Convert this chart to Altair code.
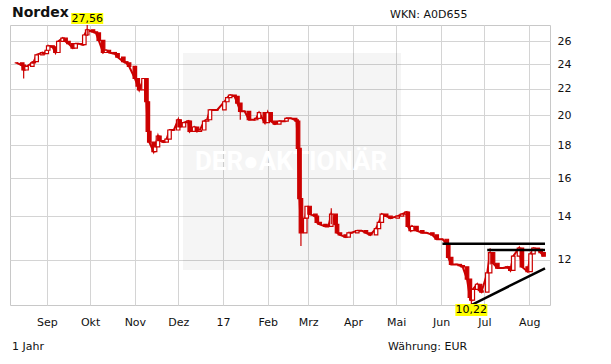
import altair as alt
import pandas as pd

# ---- data (Nordex, 1 year, EUR) ----
dates = [
    "2016-08-11", "2016-08-15", "2016-08-16", "2016-08-18", "2016-08-22", "2016-08-23",
    "2016-08-25", "2016-08-29", "2016-08-30", "2016-09-01", "2016-09-02", "2016-09-05",
    "2016-09-07", "2016-09-09", "2016-09-12", "2016-09-14", "2016-09-16", "2016-09-19",
    "2016-09-21", "2016-09-23", "2016-09-26", "2016-09-27", "2016-09-29", "2016-10-03",
    "2016-10-05", "2016-10-07", "2016-10-10", "2016-10-12", "2016-10-14", "2016-10-18",
    "2016-10-20", "2016-10-24", "2016-10-26", "2016-10-28", "2016-11-01", "2016-11-03",
    "2016-11-04", "2016-11-07", "2016-11-09", "2016-11-10", "2016-11-11", "2016-11-14",
    "2016-11-15", "2016-11-17", "2016-11-18", "2016-11-21", "2016-11-23", "2016-11-25",
    "2016-11-28", "2016-12-01", "2016-12-02", "2016-12-05", "2016-12-08", "2016-12-09",
    "2016-12-12", "2016-12-14", "2016-12-16", "2016-12-19", "2016-12-21", "2016-12-23",
    "2016-12-27", "2016-12-28", "2017-01-02", "2017-01-04", "2017-01-06", "2017-01-09",
    "2017-01-11", "2017-01-13", "2017-01-16", "2017-01-19", "2017-01-23", "2017-01-24",
    "2017-01-26", "2017-01-30", "2017-02-01", "2017-02-03", "2017-02-06", "2017-02-09",
    "2017-02-13", "2017-02-14", "2017-02-17", "2017-02-20", "2017-02-21", "2017-02-22",
    "2017-02-23", "2017-02-24", "2017-02-27", "2017-02-28", "2017-03-02", "2017-03-06",
    "2017-03-07", "2017-03-09", "2017-03-13", "2017-03-15", "2017-03-17", "2017-03-20",
    "2017-03-21", "2017-03-23", "2017-03-27", "2017-03-29", "2017-03-31", "2017-04-04",
    "2017-04-07", "2017-04-10", "2017-04-13", "2017-04-17", "2017-04-19", "2017-04-21",
    "2017-04-24", "2017-04-27", "2017-05-02", "2017-05-05", "2017-05-08", "2017-05-09",
    "2017-05-11", "2017-05-12", "2017-05-15", "2017-05-19", "2017-05-22", "2017-05-26",
    "2017-05-29", "2017-06-02", "2017-06-05", "2017-06-06", "2017-06-08", "2017-06-12",
    "2017-06-14", "2017-06-16", "2017-06-19", "2017-06-21", "2017-06-22", "2017-06-23",
    "2017-06-26", "2017-06-28", "2017-06-29", "2017-07-03", "2017-07-05", "2017-07-07",
    "2017-07-10", "2017-07-12", "2017-07-14", "2017-07-17", "2017-07-19", "2017-07-21",
    "2017-07-25", "2017-07-27", "2017-07-31", "2017-08-02", "2017-08-04", "2017-08-07",
    "2017-08-09", "2017-08-11",
]
close = [
    24.1, 23.9, 23.5, 23.8, 24.1, 24.2,
    24.8, 25.0, 24.9, 25.2, 25.6, 25.5,
    25.0, 26.0, 26.3, 26.0, 25.8, 25.4,
    25.8, 25.8, 25.7, 26.6, 27.1, 26.9,
    26.8, 26.1, 25.0, 25.2, 25.0, 24.9,
    24.6, 24.2, 24.1, 23.8, 22.8, 22.2,
    21.9, 22.8, 21.0, 18.9, 18.2, 17.6,
    17.9, 18.6, 18.3, 18.2, 18.4, 19.0,
    19.0, 19.7, 19.2, 19.5, 19.6, 18.9,
    19.2, 18.9, 19.0, 19.6, 19.7, 20.4,
    20.4, 20.4, 21.0, 21.3, 21.5, 21.4,
    20.9, 20.3, 20.3, 19.7, 19.7, 19.8,
    20.2, 19.5, 20.2, 19.6, 19.4, 19.6,
    19.6, 19.8, 19.8, 19.7, 19.6, 17.8,
    14.9, 13.2, 13.9, 14.5, 14.1, 14.0,
    13.7, 13.6, 13.5, 13.5, 14.1, 13.6,
    13.2, 13.1, 13.0, 13.2, 13.2, 13.3,
    13.3, 13.2, 13.1, 13.4, 13.7, 14.1,
    14.0, 13.9, 14.0, 14.1, 14.2, 13.5,
    13.3, 13.5, 13.3, 13.2, 13.2, 13.1,
    12.9, 12.9, 12.7, 12.1, 11.8, 11.8,
    11.75, 11.7, 11.2, 10.5, 10.4, 10.8,
    11.0, 10.75, 10.7, 11.45, 12.3, 11.85,
    11.65, 11.65, 11.65, 11.7, 11.55, 12.15,
    12.5, 11.7, 11.5, 12.25, 12.5, 12.45,
    12.3, 12.15,
]

# a few visible wicks (date, low, high)
wick_dates = ["2016-08-16", "2016-09-29", "2016-11-10", "2017-01-13", "2017-02-24",
              "2017-03-17", "2017-06-22", "2017-07-05"]
wick_low = [22.8, 26.5, 18.6, 19.7, 12.6, 13.6, 10.22, 11.8]
wick_high = [23.9, 27.56, 21.0, 20.4, 13.9, 14.4, 10.9, 12.5]

# chart support lines (segment, date, price)
trend_seg = ["a", "a", "b", "b", "c", "c"]
trend_dates = ["2017-06-02", "2017-08-12", "2017-07-03", "2017-08-12", "2017-06-22", "2017-08-12"]
trend_price = [12.70, 12.70, 12.42, 12.42, 10.22, 11.64]

max_date, max_value = "2016-09-29", 27.56
min_date, min_value = "2017-06-22", 10.22

y_ticks = [12, 14, 16, 18, 20, 22, 24, 26]
month_ticks = [(2016, 9), (2016, 10), (2016, 11), (2016, 12), (2017, 1), (2017, 2),
               (2017, 3), (2017, 4), (2017, 5), (2017, 6), (2017, 7), (2017, 8)]
month_names = ["Jan", "Feb", "Mrz", "Apr", "Mai", "Jun", "Jul", "Aug", "Sep", "Okt", "Nov", "Dez"]

# ---- tables ----
def iso(d):
    return d + "T00:00:00"

px = pd.DataFrame({"date": [iso(d) for d in dates], "close": close})
px["open"] = px["close"].shift(1).fillna(px["close"])
wk = pd.DataFrame({"date": [iso(d) for d in wick_dates], "low": wick_low, "high": wick_high})
tr = pd.DataFrame({"seg": trend_seg, "date": [iso(d) for d in trend_dates], "price": trend_price})
mx = pd.DataFrame({"date": [iso(max_date)], "label": [f"{max_value:.2f}".replace(".", ",")]})
mn = pd.DataFrame({"date": [iso(min_date)], "label": [f"{min_value:.2f}".replace(".", ",")]})

RED = "#cc0000"
FONT = "DejaVu Sans"

xscale = alt.Scale(domain=[alt.DateTime(year=2016, month=8, date=10),
                           alt.DateTime(year=2017, month=8, date=12)])
yscale = alt.Scale(type="log", domain=[10.22, 27.56], nice=False, zero=False)

label_expr = ("month(datum.value) == 0 ? timeFormat(datum.value, '%y') : "
              + str(month_names) + "[month(datum.value)]")

xaxis = alt.Axis(values=[alt.DateTime(year=y, month=m, date=1) for y, m in month_ticks],
                 labelExpr=label_expr, title=None, ticks=False, domain=False,
                 labelPadding=11, labelAngle=0, labelOverlap=False, labelFlush=False)
yaxis = alt.Axis(orient="right", values=y_ticks, title=None, ticks=False, domain=False,
                 labelPadding=7, format="d", labelOverlap=False)


def X(field):
    return alt.X(f"{field}:T", scale=xscale, axis=xaxis)


def Y(field):
    return alt.Y(f"{field}:Q", scale=yscale, axis=yaxis)


one = alt.Data(values=[{}])

watermark = alt.Chart(one).mark_rect(fill="#000000", opacity=0.04).encode(
    x=alt.value(173), x2=alt.value(391), y=alt.value(28), y2=alt.value(245))
watermark_text = alt.Chart(one).mark_text(
    text="DER●AKTIONÄR", font="Roboto", fontWeight="bold", fontSize=26,
    color="white", align="center", baseline="middle").encode(
    x=alt.value(281), y=alt.value(137))

line = alt.Chart(px).mark_line(color=RED, strokeWidth=2).encode(x=X("date"), y=Y("close"))
candles = alt.Chart(px).mark_bar(width=3.5, stroke=RED, strokeWidth=1.2).encode(
    x=X("date"), y=Y("open"), y2="close",
    fill=alt.condition("datum.close >= datum.open", alt.value("white"), alt.value(RED)))
wicks = alt.Chart(wk).mark_rule(color=RED, strokeWidth=1.2).encode(
    x=X("date"), y=Y("low"), y2="high")

trend = alt.Chart(tr).mark_line(color="black", strokeWidth=2.5, clip=True).encode(
    x=X("date"), y=Y("price"), detail="seg:N")

max_box = alt.Chart(mx).mark_rect(color="#ffff00", xOffset=-16, x2Offset=16).encode(
    x=X("date"), x2="date", y=alt.value(-12), y2=alt.value(-1))
max_txt = alt.Chart(mx).mark_text(font=FONT, fontSize=11, color="black", baseline="middle").encode(
    x=X("date"), y=alt.value(-6), text="label:N")
min_box = alt.Chart(mn).mark_rect(color="#ffff00", xOffset=-16, x2Offset=16).encode(
    x=X("date"), x2="date", y=alt.value(279), y2=alt.value(291))
min_txt = alt.Chart(mn).mark_text(font=FONT, fontSize=11, color="black", baseline="middle").encode(
    x=X("date"), y=alt.value(285), text="label:N")

def label(txt, x, y, size=11, weight="normal"):
    return alt.Chart(one).mark_text(text=txt, font=FONT, fontSize=size, fontWeight=weight,
                                    color="#111111", align="left", baseline="alphabetic").encode(
        x=alt.value(x), y=alt.value(y))

title = label("Nordex", 2, -8, size=14, weight="bold")
wkn = label("WKN: A0D655", 380, -7)
period = label("1 Jahr", 2, 325)
currency = label("Währung: EUR", 378, 325)

chart = alt.layer(
    watermark, watermark_text, line, candles, wicks, trend,
    max_box, max_txt, min_box, min_txt, title, wkn, period, currency,
).properties(
    width=540, height=280,
    autosize=alt.AutoSizeParams(type="none"),
    padding={"left": 10, "top": 25, "right": 61, "bottom": 59},
    background="white",
).configure_axis(
    gridColor="#d4d4d4", gridWidth=1, labelFont=FONT, labelFontSize=11, labelColor="#111111",
).configure_view(stroke="#c8c8c8", strokeWidth=1)

chart.save("out.html", embed_options={"renderer": "svg", "actions": False})
